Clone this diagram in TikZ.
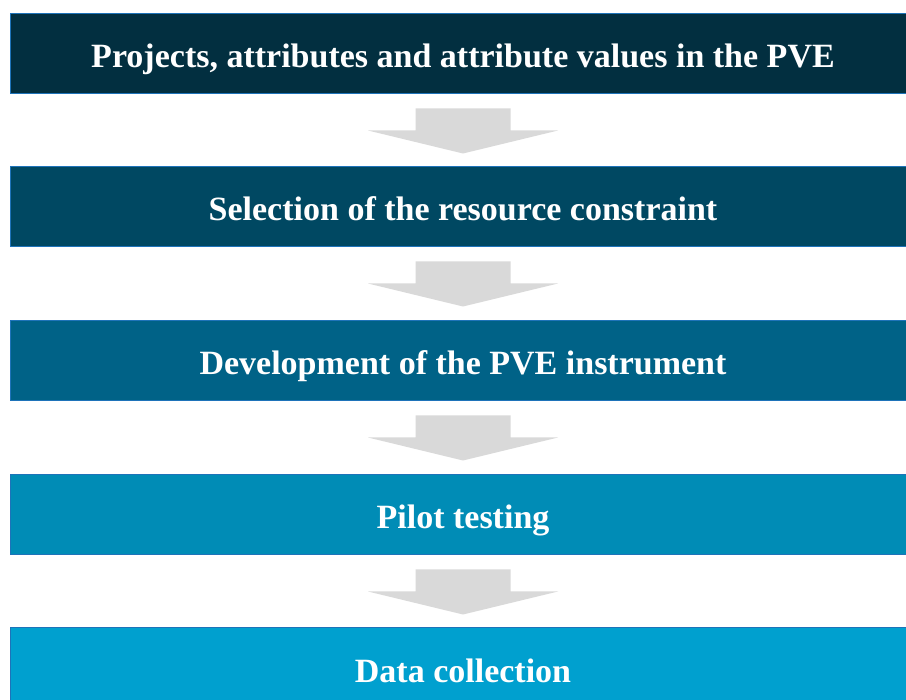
\documentclass[tikz,border=0pt]{standalone}
\usepackage{fontspec}
\setmainfont{Liberation Serif}
\usetikzlibrary{positioning}

\definecolor{stepA}{RGB}{2,47,64}
\definecolor{stepB}{RGB}{0,72,98}
\definecolor{stepC}{RGB}{0,98,135}
\definecolor{stepD}{RGB}{0,140,182}
\definecolor{stepE}{RGB}{0,160,207}
\definecolor{stepedge}{RGB}{30,115,185}
\definecolor{arrowgray}{RGB}{217,217,217}

\tikzset{
  stepbox/.style={draw=stepedge, line width=1pt, minimum width=906pt, minimum height=80pt,
    inner sep=0pt, text=white, text height=28pt, text depth=0pt,
    font=\fontsize{34}{40}\selectfont\bfseries},
  downarrow/.style={fill=arrowgray}
}

\begin{document}
\begin{tikzpicture}[x=1pt,y=-1pt]
\useasboundingbox (0,0) rectangle (906,700);
\clip (0,0) rectangle (906,700);
\fill[white] (0,0) rectangle (906,700);

% the five steps
\node[stepbox, fill=stepA] (b1) at (463,54) {Projects, attributes and attribute values in the PVE};
\node[stepbox, fill=stepB] (b2) at (463,207) {Selection of the resource constraint};
\node[stepbox, fill=stepC] (b3) at (463,361) {Development of the PVE instrument};
\node[stepbox, fill=stepD] (b4) at (463,515) {Pilot testing};
\node[stepbox, fill=stepE] (b5) at (463,668) {Data collection};

% gray block arrows between the steps
\foreach \s in {b1,b2,b3,b4}
  \fill[downarrow] ([shift={(-47.5,14)}]\s.south) -- ([shift={(47.5,14)}]\s.south)
    -- ([shift={(47.5,36)}]\s.south) -- ([shift={(95,36)}]\s.south)
    -- ([shift={(0,59)}]\s.south) -- ([shift={(-95,36)}]\s.south)
    -- ([shift={(-47.5,36)}]\s.south) -- cycle;

\end{tikzpicture}
\end{document}
